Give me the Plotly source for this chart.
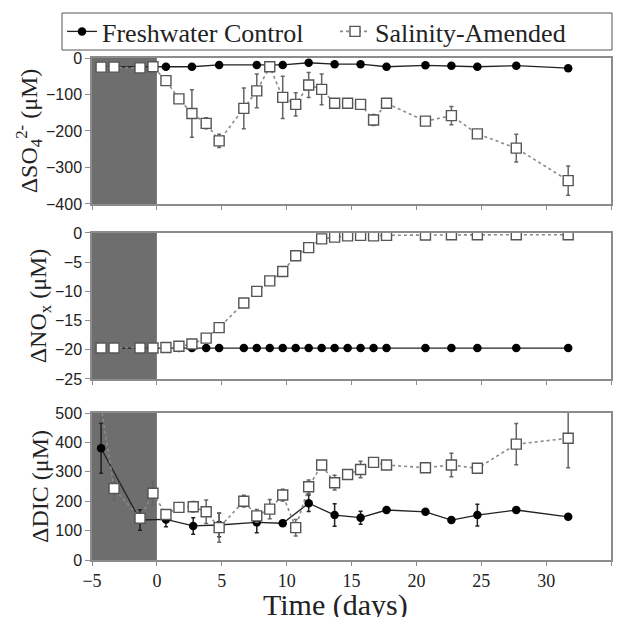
import plotly.graph_objects as go
from plotly.subplots import make_subplots

# ---------------- data ----------------
# Sulfate panel
so4_fw_t = [-4.3, -3.3, -1.3, -0.3, 0.7, 2.7, 4.8, 7.7, 9.7, 11.7, 13.7, 15.7, 17.7, 20.7, 22.7, 24.7, 27.7, 31.7]
so4_fw_v = [-24, -24, -26, -24, -24, -24, -19, -19, -19, -13, -17, -17, -24, -20, -21, -24, -21, -28]
so4_fw_e = [0, 0, 0, 0, 0, 0, 0, 0, 0, 0, 0, 0, 0, 0, 0, 0, 0, 0]

so4_sa_t = [-4.3, -3.3, -1.3, -0.3, 0.7, 1.7, 2.7, 3.8, 4.8, 6.7, 7.7, 8.7, 9.7, 10.7, 11.7, 12.7, 13.7, 14.7, 15.7, 16.7, 17.7, 20.7, 22.7, 24.7, 27.7, 31.7]
so4_sa_v = [-25, -25, -27, -24, -62, -112, -152, -179, -227, -138, -90, -24, -108, -127, -74, -86, -124, -124, -127, -170, -124, -173, -158, -208, -247, -336]
so4_sa_e = [0, 0, 0, 0, 0, 0, 65, 15, 18, 56, 46, 5, 58, 32, 34, 42, 10, 0, 12, 15, 0, 0, 25, 0, 38, 40]

# Nitrate / nitrite panel
nox_fw_t = [-4.3, -3.3, -1.3, -0.3, 0.7, 1.7, 2.7, 3.8, 4.8, 6.7, 7.7, 8.7, 9.7, 10.7, 11.7, 12.7, 13.7, 14.7, 15.7, 16.7, 17.7, 20.7, 22.7, 24.7, 27.7, 31.7]
nox_fw_v = [-19.7] * 26

nox_sa_t = [-4.3, -3.3, -1.3, -0.3, 0.7, 1.7, 2.7, 3.8, 4.8, 6.7, 7.7, 8.7, 9.7, 10.7, 11.7, 12.7, 13.7, 14.7, 15.7, 16.7, 17.7, 20.7, 22.7, 24.7, 27.7, 31.7]
nox_sa_v = [-19.7, -19.7, -19.7, -19.7, -19.6, -19.4, -19.0, -18.0, -16.2, -12.0, -10.0, -8.2, -6.6, -3.9, -2.5, -1.0, -0.7, -0.5, -0.4, -0.5, -0.4, -0.35, -0.3, -0.3, -0.3, -0.3]

# DIC panel
dic_fw_t = [-4.3, -1.3, 0.7, 2.8, 4.8, 7.7, 9.7, 11.7, 13.7, 15.7, 17.7, 20.7, 22.7, 24.7, 27.7, 31.7]
dic_fw_v = [380, 136, 138, 116, 119, 128, 125, 193, 153, 144, 170, 164, 136, 153, 170, 147]
dic_fw_e = [85, 35, 25, 28, 40, 35, 10, 28, 38, 22, 0, 0, 0, 37, 0, 0]

dic_sa_t = [-4.3, -3.3, -1.3, -0.3, 0.7, 1.7, 2.8, 3.8, 4.8, 6.7, 7.7, 8.7, 9.7, 10.7, 11.7, 12.7, 13.7, 14.7, 15.7, 16.7, 17.7, 20.7, 22.7, 24.7, 27.7, 31.7]
dic_sa_v = [520, 243, 142, 227, 155, 179, 181, 164, 110, 200, 150, 173, 221, 110, 249, 323, 263, 291, 308, 332, 323, 314, 323, 312, 394, 414]
dic_sa_e = [50, 40, 10, 40, 0, 0, 18, 40, 50, 20, 22, 33, 20, 28, 23, 0, 25, 0, 28, 0, 0, 0, 40, 0, 70, 100]

x_ticks = [-5, 0, 5, 10, 15, 20, 25, 30, 35]
labels = {"fw": "Freshwater Control", "sa": "Salinity-Amended"}
x_title = "Time (days)"

# ---------------- figure ----------------
SERIF = "Liberation Serif, Times New Roman, serif"
SANS = "Liberation Sans, Arial, sans-serif"

fig = make_subplots(rows=3, cols=1, shared_xaxes=False, vertical_spacing=0.0)

fw_line = dict(color="#222222", width=1.3)
fw_marker = dict(symbol="circle", size=8.5, color="black")
sa_line = dict(color="#8a8a8a", width=1.6, dash="dot")
sa_marker = dict(symbol="square", size=10, color="white", line=dict(color="#555555", width=1.4))


def err(arr, color):
    return dict(type="data", array=arr, visible=True, color=color, thickness=1.5, width=2)


# top
fig.add_trace(go.Scatter(x=so4_fw_t, y=so4_fw_v, mode="lines+markers", line=fw_line, marker=fw_marker,
                         error_y=err(so4_fw_e, "#222"), name=labels["fw"], legendgroup="fw"), row=1, col=1)
fig.add_trace(go.Scatter(x=so4_sa_t, y=so4_sa_v, mode="lines+markers", line=sa_line, marker=sa_marker,
                         error_y=err(so4_sa_e, "#666"), name=labels["sa"], legendgroup="sa"), row=1, col=1)
# middle
fig.add_trace(go.Scatter(x=nox_fw_t, y=nox_fw_v, mode="lines+markers", line=fw_line, marker=fw_marker,
                         name=labels["fw"], legendgroup="fw", showlegend=False), row=2, col=1)
fig.add_trace(go.Scatter(x=nox_sa_t, y=nox_sa_v, mode="lines+markers", line=sa_line, marker=sa_marker,
                         name=labels["sa"], legendgroup="sa", showlegend=False), row=2, col=1)
# bottom
fig.add_trace(go.Scatter(x=dic_fw_t, y=dic_fw_v, mode="lines+markers", line=fw_line, marker=fw_marker,
                         error_y=err(dic_fw_e, "#222"), name=labels["fw"], legendgroup="fw", showlegend=False), row=3, col=1)
fig.add_trace(go.Scatter(x=dic_sa_t, y=dic_sa_v, mode="lines+markers", line=sa_line, marker=sa_marker,
                         error_y=err(dic_sa_e, "#666"), name=labels["sa"], legendgroup="sa", showlegend=False), row=3, col=1)

# domains
doms = {1: [0.7092, 1.0], 2: [0.3606, 0.6514], 3: [0.0, 0.2928]}
yranges = {1: [-400, 0], 2: [-25, 0], 3: [0, 500]}
ydticks = {1: 100, 2: 5, 3: 100}
ytitles = {1: "ΔSO<sub>4</sub><sup>2-</sup> (μM)", 2: "ΔNO<sub>x</sub> (μM)", 3: "ΔDIC (μM)"}

axis_color = "#8c8c8c"
for r in (1, 2, 3):
    fig.update_yaxes(row=r, col=1, domain=doms[r], range=yranges[r], dtick=ydticks[r], automargin=False,
                     showgrid=False, zeroline=False, showline=True, linecolor=axis_color, linewidth=1.5,
                     mirror=True, ticks="outside", ticklen=5, tickcolor=axis_color,
                     tickfont=dict(family=SANS, size=16, color="#222"),
                     title=dict(text=ytitles[r], font=dict(family=SERIF, size=24, color="#222"), standoff=0))
    fig.update_xaxes(row=r, col=1, range=[-5, 35], tickvals=x_ticks, showgrid=False, zeroline=False,
                     automargin=False,
                     showline=True, linecolor=axis_color, linewidth=1.5, mirror=True,
                     ticks="outside", ticklen=4, tickcolor=axis_color,
                     showticklabels=(r == 3),
                     tickfont=dict(family=SERIF, size=18, color="#222"))
    xref = "x" if r == 1 else f"x{r}"
    yref = "y domain" if r == 1 else f"y{r} domain"
    fig.add_shape(type="rect", xref=xref, yref=yref, x0=-5, x1=0, y0=0, y1=1,
                  fillcolor="#6e6e6e", line=dict(width=0), layer="below")

# x-axis title placed as an annotation below the tick labels
fig.add_annotation(text=x_title, xref="paper", yref="paper", x=0.470, y=-0.0896,
                   xanchor="center", yanchor="middle", showarrow=False,
                   font=dict(family=SERIF, size=30, color="#222"))

# legend frame (drawn as a shape so its height matches the original tight box)
fig.add_shape(type="rect", xref="paper", yref="paper", x0=-0.0578, x1=1.0019, y0=1.0159, y1=1.0896,
              line=dict(color="#555", width=1), fillcolor="white", layer="above")

fig.update_layout(
    width=618, height=617,
    margin=dict(l=92, r=7, t=58, b=57, autoexpand=False),
    paper_bgcolor="white", plot_bgcolor="white",
    showlegend=True,
    legend=dict(orientation="h", x=-0.0578, xanchor="left", y=1.0528, yanchor="middle",
                borderwidth=0, bgcolor="rgba(0,0,0,0)",
                font=dict(family=SERIF, size=26, color="#222"), itemwidth=30,
                entrywidth=228, entrywidthmode="pixels",
                tracegroupgap=0, traceorder="normal"),
)

fig.write_html("out.html")
